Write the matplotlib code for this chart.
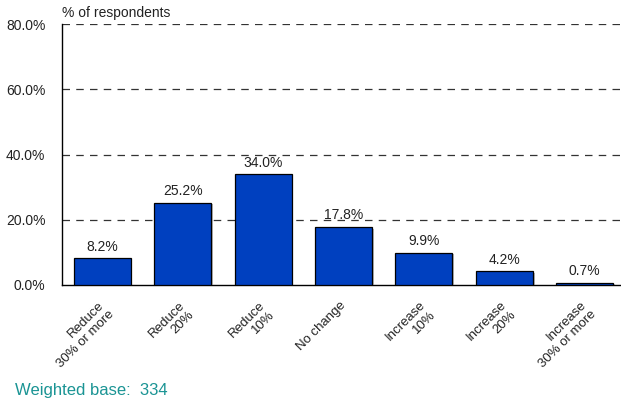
import numpy as np
import matplotlib
matplotlib.use("Agg")
import matplotlib.pyplot as plt
import matplotlib.patheffects as pe
from matplotlib.transforms import ScaledTranslation

plt.rcParams['font.family'] = ['Liberation Sans', 'DejaVu Sans']

# data
categories = ["Reduce\n30% or more", "Reduce\n20%", "Reduce\n10%", "No change",
              "Increase\n10%", "Increase\n20%", "Increase\n30% or more"]
values = [8.2, 25.2, 34.0, 17.8, 9.9, 4.2, 0.7]
yticks = [0, 20, 40, 60, 80]
base = 334

fig = plt.figure(figsize=(6.21, 4.05), dpi=100)
W, H = 621., 405.
ax = fig.add_axes([62 / W, 1 - 285 / H, (625 - 62) / W, (285 - 24) / H])

x = np.arange(len(values))
bars = ax.bar(x, values, width=0.71, color='#0040BF', edgecolor='black', linewidth=0.9, zorder=3)
for b in bars:
    b.set_path_effects([pe.SimplePatchShadow(offset=(1.2, -1.2), shadow_rgbFace='#888888', alpha=0.6),
                        pe.Normal()])

for xi, v in zip(x, values):
    ax.text(xi, v + 1.4, "{0:.1f}%".format(v), ha='center', va='bottom', fontsize=10, color='#222222', zorder=4)

ax.set_ylim(0, 80)
ax.set_xlim(-0.5, 6.5)
ax.set_yticks(yticks)
ax.set_yticklabels(["{0:.1f}%".format(t) for t in yticks], fontsize=10, color='#222222')
ax.tick_params(axis='y', length=0, pad=12)
ax.tick_params(axis='x', length=0, pad=10)
ax.set_xticks(x)
ax.set_xticklabels(categories, rotation=45, ha='right', va='top', rotation_mode='anchor',
                   multialignment='right', fontsize=9.5, color='#222222')
# nudge labels a little left
for lab in ax.get_xticklabels():
    lab.set_transform(lab.get_transform() + ScaledTranslation(-3 / 72., 0, fig.dpi_scale_trans))

for t in yticks[1:]:
    ax.axhline(t, color='#333333', linestyle=(0, (6, 5)), linewidth=0.9, zorder=1)

for s in ['top', 'right']:
    ax.spines[s].set_visible(False)
ax.spines['left'].set_linewidth(1.0)
ax.spines['bottom'].set_linewidth(1.0)

fig.text(62 / W, 1 - 13 / H, "% of respondents", fontsize=10, ha='left', va='center', color='#222222')
fig.text(15 / W, 1 - 391 / H, "Weighted base:  {0}".format(base), fontsize=12, ha='left', va='center', color='#1A9494')

fig.savefig("out.png", dpi=100)
